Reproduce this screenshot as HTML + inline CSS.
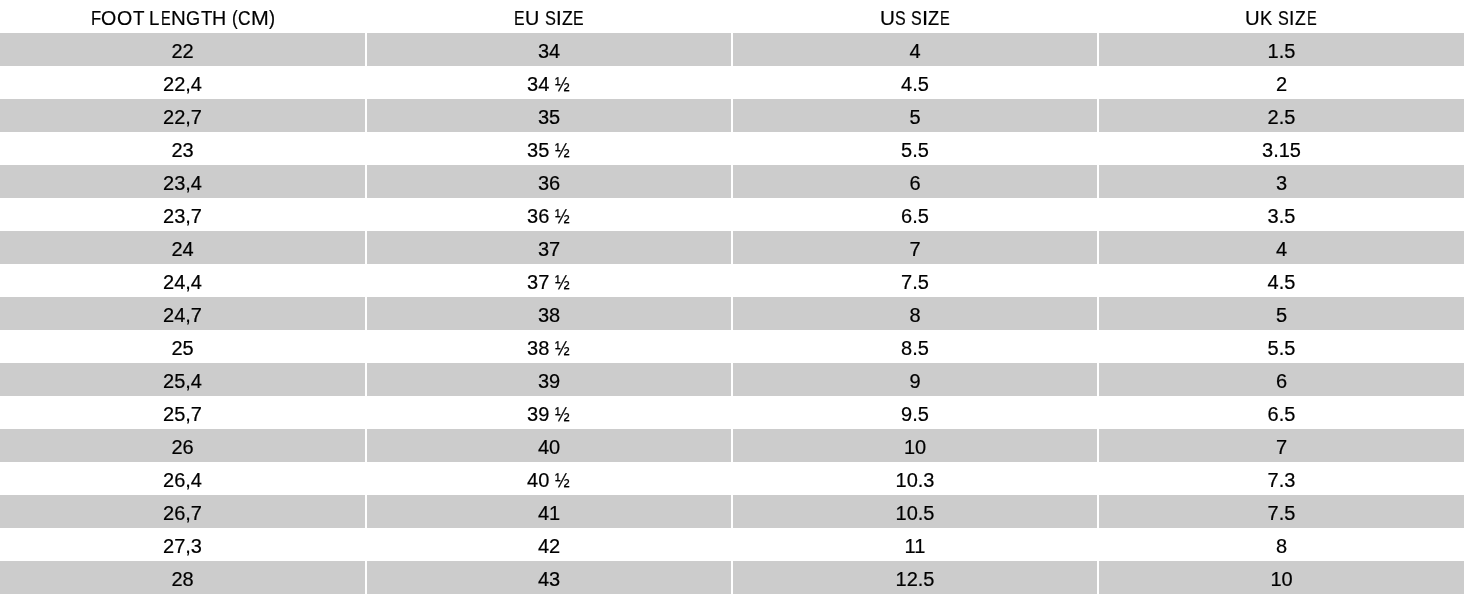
<!DOCTYPE html><html><head><meta charset='utf-8'><title>Size chart</title><style>
html,body{margin:0;padding:0;background:#fff;width:1464px;height:600px;overflow:hidden}
body{position:relative;font-family:"Liberation Sans",Arial,sans-serif;font-size:20px;color:#000;-webkit-text-stroke:0.2px #000}
.c{position:absolute;height:33px;line-height:37px;text-align:center;white-space:nowrap;overflow:hidden}
.g{background:#cccccc}
.hf{display:inline-block;transform:scaleX(0.88);transform-origin:0 0;margin-right:-0.6px}
.hd{position:absolute;left:0;top:0;width:1464px;height:33px}
.hrow{position:absolute;left:0;top:2px;height:33px;line-height:33px;white-space:pre;font-size:20px}
.hrow span{display:inline-block;width:0;transform-origin:0 0}
</style></head><body>
<div class='hd'>
<div class='hrow'><span style='margin-left:91.44px;transform:scaleX(0.8288)'>F</span><span style='margin-left:9.87px;transform:scaleX(0.9808)'>O</span><span style='margin-left:16.00px;transform:scaleX(0.9808)'>O</span><span style='margin-left:15.48px;transform:scaleX(0.9386)'>T </span><span style='margin-left:16.44px;transform:scaleX(0.9320)'>L</span><span style='margin-left:11.62px;transform:scaleX(0.7232)'>E</span><span style='margin-left:10.29px;transform:scaleX(1.0224)'>N</span><span style='margin-left:15.22px;transform:scaleX(0.9077)'>G</span><span style='margin-left:14.54px;transform:scaleX(0.9298)'>T</span><span style='margin-left:11.51px;transform:scaleX(0.9821)'>H </span><span style='margin-left:19.38px;transform:scaleX(0.8537)'>(</span><span style='margin-left:6.51px;transform:scaleX(0.8674)'>C</span><span style='margin-left:12.86px;transform:scaleX(1.0685)'>M</span><span style='margin-left:18.40px;transform:scaleX(0.9091)'>)</span></div>
<div class='hrow'><span style='margin-left:513.84px;transform:scaleX(0.7922)'>E</span><span style='margin-left:10.98px;transform:scaleX(0.9877)'>U </span><span style='margin-left:19.93px;transform:scaleX(0.8174)'>S</span><span style='margin-left:11.41px;transform:scaleX(1.0160)'>I</span><span style='margin-left:5.91px;transform:scaleX(0.8791)'>Z</span><span style='margin-left:11.07px;transform:scaleX(0.7922)'>E</span></div>
<div class='hrow'><span style='margin-left:879.55px;transform:scaleX(1.0317)'>U</span><span style='margin-left:15.43px;transform:scaleX(0.7993)'>S </span><span style='margin-left:15.79px;transform:scaleX(0.8038)'>S</span><span style='margin-left:10.94px;transform:scaleX(1.0963)'>I</span><span style='margin-left:6.04px;transform:scaleX(0.9066)'>Z</span><span style='margin-left:11.90px;transform:scaleX(0.7269)'>E</span></div>
<div class='hrow'><span style='margin-left:1244.98px;transform:scaleX(1.0141)'>U</span><span style='margin-left:15.45px;transform:scaleX(0.9149)'>K </span><span style='margin-left:17.64px;transform:scaleX(0.8084)'>S</span><span style='margin-left:11.20px;transform:scaleX(0.9626)'>I</span><span style='margin-left:6.11px;transform:scaleX(0.8791)'>Z</span><span style='margin-left:11.58px;transform:scaleX(0.7269)'>E</span></div>
</div>
<div class='c g' style='left:0px;width:365px;top:33px'>22</div>
<div class='c g' style='left:367px;width:364px;top:33px'>34</div>
<div class='c g' style='left:733px;width:364px;top:33px'>4</div>
<div class='c g' style='left:1099px;width:365px;top:33px'>1.5</div>
<div class='c' style='left:0px;width:365px;top:66px'>22,4</div>
<div class='c' style='left:367px;width:364px;top:66px'>34 <span class='hf'>½</span></div>
<div class='c' style='left:733px;width:364px;top:66px'>4.5</div>
<div class='c' style='left:1099px;width:365px;top:66px'>2</div>
<div class='c g' style='left:0px;width:365px;top:99px'>22,7</div>
<div class='c g' style='left:367px;width:364px;top:99px'>35</div>
<div class='c g' style='left:733px;width:364px;top:99px'>5</div>
<div class='c g' style='left:1099px;width:365px;top:99px'>2.5</div>
<div class='c' style='left:0px;width:365px;top:132px'>23</div>
<div class='c' style='left:367px;width:364px;top:132px'>35 <span class='hf'>½</span></div>
<div class='c' style='left:733px;width:364px;top:132px'>5.5</div>
<div class='c' style='left:1099px;width:365px;top:132px'>3.15</div>
<div class='c g' style='left:0px;width:365px;top:165px'>23,4</div>
<div class='c g' style='left:367px;width:364px;top:165px'>36</div>
<div class='c g' style='left:733px;width:364px;top:165px'>6</div>
<div class='c g' style='left:1099px;width:365px;top:165px'>3</div>
<div class='c' style='left:0px;width:365px;top:198px'>23,7</div>
<div class='c' style='left:367px;width:364px;top:198px'>36 <span class='hf'>½</span></div>
<div class='c' style='left:733px;width:364px;top:198px'>6.5</div>
<div class='c' style='left:1099px;width:365px;top:198px'>3.5</div>
<div class='c g' style='left:0px;width:365px;top:231px'>24</div>
<div class='c g' style='left:367px;width:364px;top:231px'>37</div>
<div class='c g' style='left:733px;width:364px;top:231px'>7</div>
<div class='c g' style='left:1099px;width:365px;top:231px'>4</div>
<div class='c' style='left:0px;width:365px;top:264px'>24,4</div>
<div class='c' style='left:367px;width:364px;top:264px'>37 <span class='hf'>½</span></div>
<div class='c' style='left:733px;width:364px;top:264px'>7.5</div>
<div class='c' style='left:1099px;width:365px;top:264px'>4.5</div>
<div class='c g' style='left:0px;width:365px;top:297px'>24,7</div>
<div class='c g' style='left:367px;width:364px;top:297px'>38</div>
<div class='c g' style='left:733px;width:364px;top:297px'>8</div>
<div class='c g' style='left:1099px;width:365px;top:297px'>5</div>
<div class='c' style='left:0px;width:365px;top:330px'>25</div>
<div class='c' style='left:367px;width:364px;top:330px'>38 <span class='hf'>½</span></div>
<div class='c' style='left:733px;width:364px;top:330px'>8.5</div>
<div class='c' style='left:1099px;width:365px;top:330px'>5.5</div>
<div class='c g' style='left:0px;width:365px;top:363px'>25,4</div>
<div class='c g' style='left:367px;width:364px;top:363px'>39</div>
<div class='c g' style='left:733px;width:364px;top:363px'>9</div>
<div class='c g' style='left:1099px;width:365px;top:363px'>6</div>
<div class='c' style='left:0px;width:365px;top:396px'>25,7</div>
<div class='c' style='left:367px;width:364px;top:396px'>39 <span class='hf'>½</span></div>
<div class='c' style='left:733px;width:364px;top:396px'>9.5</div>
<div class='c' style='left:1099px;width:365px;top:396px'>6.5</div>
<div class='c g' style='left:0px;width:365px;top:429px'>26</div>
<div class='c g' style='left:367px;width:364px;top:429px'>40</div>
<div class='c g' style='left:733px;width:364px;top:429px'>10</div>
<div class='c g' style='left:1099px;width:365px;top:429px'>7</div>
<div class='c' style='left:0px;width:365px;top:462px'>26,4</div>
<div class='c' style='left:367px;width:364px;top:462px'>40 <span class='hf'>½</span></div>
<div class='c' style='left:733px;width:364px;top:462px'>10.3</div>
<div class='c' style='left:1099px;width:365px;top:462px'>7.3</div>
<div class='c g' style='left:0px;width:365px;top:495px'>26,7</div>
<div class='c g' style='left:367px;width:364px;top:495px'>41</div>
<div class='c g' style='left:733px;width:364px;top:495px'>10.5</div>
<div class='c g' style='left:1099px;width:365px;top:495px'>7.5</div>
<div class='c' style='left:0px;width:365px;top:528px'>27,3</div>
<div class='c' style='left:367px;width:364px;top:528px'>42</div>
<div class='c' style='left:733px;width:364px;top:528px'>11</div>
<div class='c' style='left:1099px;width:365px;top:528px'>8</div>
<div class='c g' style='left:0px;width:365px;top:561px'>28</div>
<div class='c g' style='left:367px;width:364px;top:561px'>43</div>
<div class='c g' style='left:733px;width:364px;top:561px'>12.5</div>
<div class='c g' style='left:1099px;width:365px;top:561px'>10</div>
</body></html>
